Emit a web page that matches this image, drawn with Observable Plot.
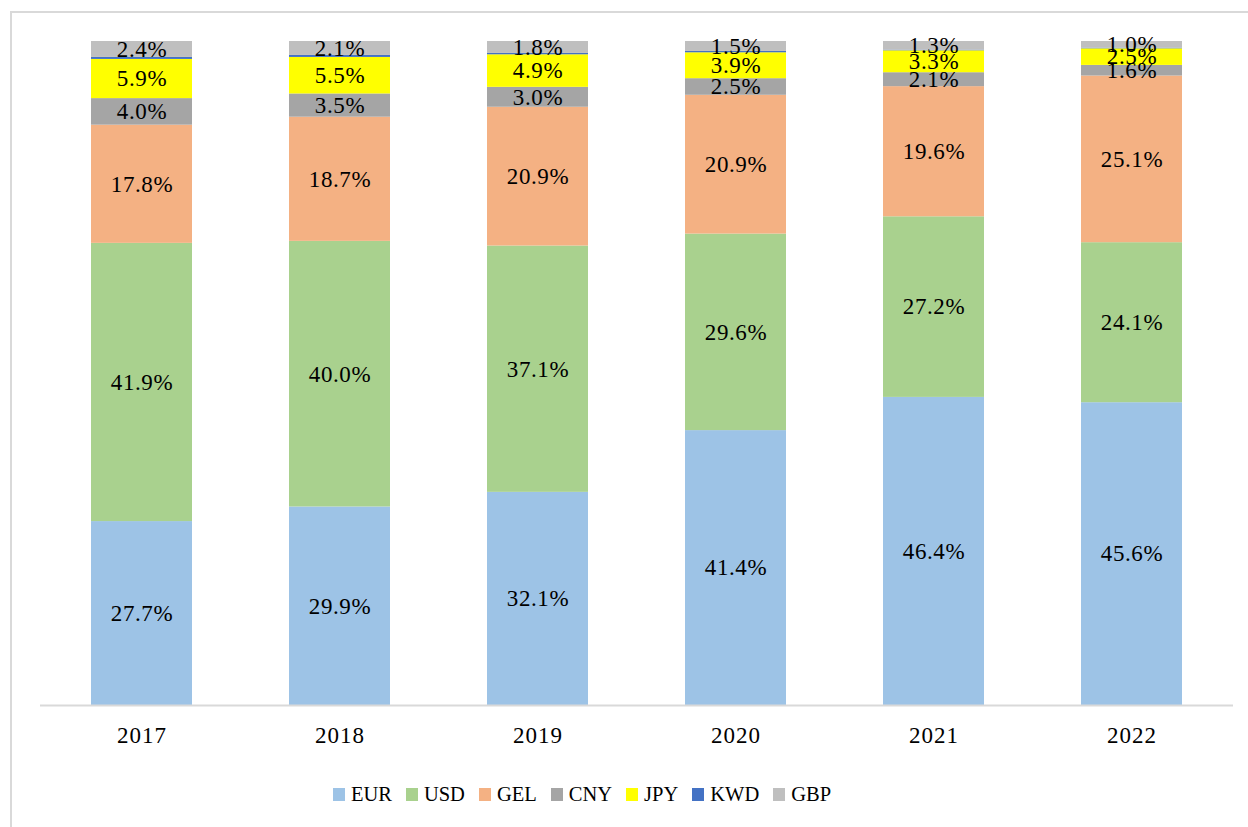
<!DOCTYPE html>
<html>
<head>
<meta charset="utf-8">
<script src="https://cdn.jsdelivr.net/npm/d3@7"></script>
<script src="https://cdn.jsdelivr.net/npm/@observablehq/plot@0.6"></script>
<style>
  html, body { margin: 0; padding: 0; background: #fff; }
  body { width: 1248px; height: 827px; overflow: hidden; position: relative; font-family: "Liberation Serif", "Times New Roman", serif; }
  #frame { position: absolute; left: 10px; top: 11px; width: 1300px; height: 900px; border: 2px solid #d9d9d9; box-sizing: border-box; }
  #chart { position: absolute; left: 0; top: 0; }
  #legend { position: absolute; left: 0; width: 1164px; top: 782px; display: flex; justify-content: center; gap: 14px; font-size: 20.5px; color: #000; line-height: 24px; }
  #legend .item { display: flex; align-items: center; }
  #legend .sw { width: 12px; height: 13px; margin-right: 6px; display: inline-block; }
  #chart svg text { letter-spacing: 0.6px; }
  #chart svg g[aria-label="x-axis tick label"] text { letter-spacing: 1px; }
</style>
</head>
<body>
<div id="frame"></div>
<div id="chart"></div>
<div id="legend"></div>
<script>
const years = ["2017", "2018", "2019", "2020", "2021", "2022"];
const currencies = ["EUR", "USD", "GEL", "CNY", "JPY", "KWD", "GBP"];
const colors = ["#9dc3e6", "#a9d18e", "#f4b183", "#a5a5a5", "#ffff00", "#4472c4", "#bfbfbf"];

const EUR = [27.7, 29.9, 32.1, 41.4, 46.4, 45.6];
const USD = [41.9, 40.0, 37.1, 29.6, 27.2, 24.1];
const GEL = [17.8, 18.7, 20.9, 20.9, 19.6, 25.1];
const CNY = [4.0, 3.5, 3.0, 2.5, 2.1, 1.6];
const JPY = [5.9, 5.5, 4.9, 3.9, 3.3, 2.5];
const KWD = [0.3, 0.3, 0.2, 0.2, 0.1, 0.1];
const GBP = [2.4, 2.1, 1.8, 1.5, 1.3, 1.0];

const series = { EUR, USD, GEL, CNY, JPY, KWD, GBP };
const labelled = ["EUR", "USD", "GEL", "CNY", "JPY", "GBP"];

const rows = [];
currencies.forEach(c => {
  years.forEach((y, i) => rows.push({ year: y, currency: c, value: series[c][i] }));
});

const font = "Liberation Serif, Times New Roman, serif";

const chart = Plot.plot({
  width: 1248,
  height: 760,
  marginLeft: 40,
  marginRight: 15,
  marginTop: 41,
  marginBottom: 55,
  style: { background: "transparent", fontFamily: font, fontSize: "23px", color: "#000" },
  x: { domain: years, paddingInner: 0.49, paddingOuter: 0.245, align: 0.5, label: null, tickSize: 0, tickPadding: 21 },
  y: { domain: [0, 100], axis: null },
  color: { domain: currencies, range: colors },
  marks: [
    Plot.barY(rows, Plot.stackY({ x: "year", y: "value", z: "currency", fill: "currency", order: currencies })),
    Plot.ruleY([0], { stroke: "#d9d9d9", strokeWidth: 2 }),
    Plot.text(rows, Plot.stackY({
      x: "year", y: "value", z: "currency", order: currencies,
      text: d => labelled.includes(d.currency) ? d.value.toFixed(1) + "%" : "",
      fill: "#000", fontSize: 23, fontFamily: font
    }))
  ]
});
document.getElementById("chart").appendChild(chart);

const legend = document.getElementById("legend");
currencies.forEach((c, i) => {
  const item = document.createElement("span");
  item.className = "item";
  const sw = document.createElement("span");
  sw.className = "sw";
  sw.style.background = colors[i];
  item.appendChild(sw);
  item.appendChild(document.createTextNode(c));
  legend.appendChild(item);
});
</script>
</body>
</html>
